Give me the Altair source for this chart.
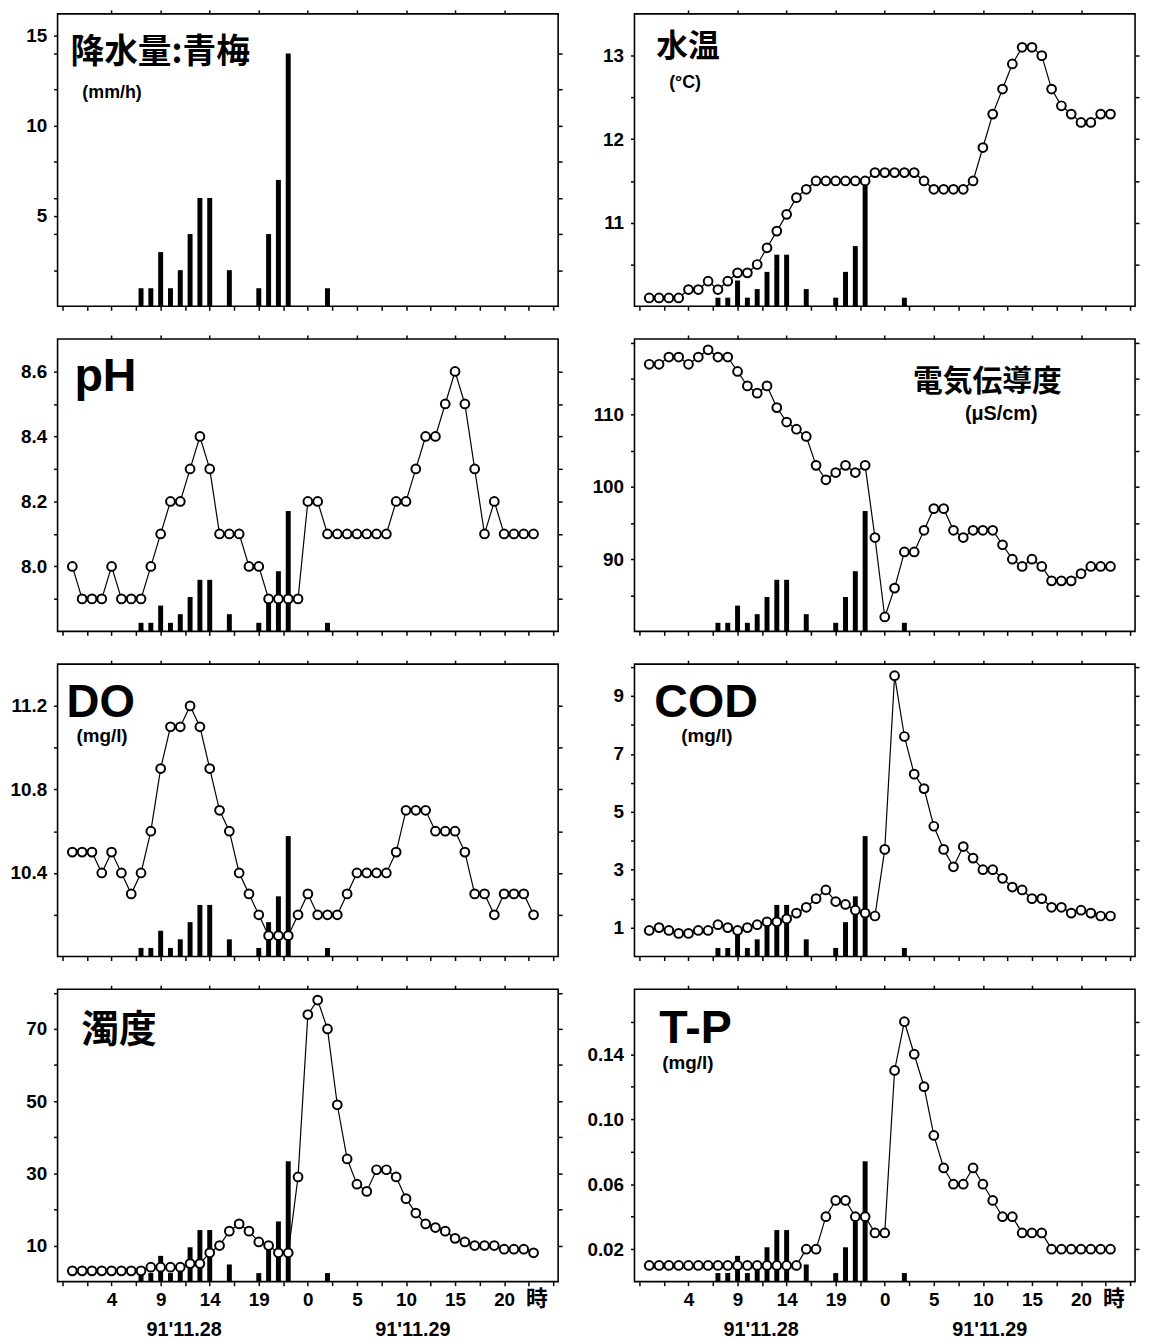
import altair as alt
import pandas as pd

# ---------------- data ----------------
HOURS = list(range(48))  # hours from 91'11.28 0:00

RAIN_HOURS = [7, 8, 9, 10, 11, 12, 13, 14, 16, 19, 20, 21, 22, 26]
RAIN_MM = [1, 1, 3, 1, 2, 4, 6, 6, 2, 1, 4, 7, 14, 1]

WATER_TEMP = [10.1, 10.1, 10.1, 10.1, 10.2, 10.2, 10.3, 10.2, 10.3, 10.4,
              10.4, 10.5, 10.7, 10.9, 11.1, 11.3, 11.4, 11.5, 11.5, 11.5,
              11.5, 11.5, 11.5, 11.6, 11.6, 11.6, 11.6, 11.6, 11.5, 11.4,
              11.4, 11.4, 11.4, 11.5, 11.9, 12.3, 12.6, 12.9, 13.1, 13.1,
              13.0, 12.6, 12.4, 12.3, 12.2, 12.2, 12.3, 12.3]

PH = [8.0, 7.9, 7.9, 7.9, 8.0, 7.9, 7.9, 7.9, 8.0, 8.1,
      8.2, 8.2, 8.3, 8.4, 8.3, 8.1, 8.1, 8.1, 8.0, 8.0,
      7.9, 7.9, 7.9, 7.9, 8.2, 8.2, 8.1, 8.1, 8.1, 8.1,
      8.1, 8.1, 8.1, 8.2, 8.2, 8.3, 8.4, 8.4, 8.5, 8.6,
      8.5, 8.3, 8.1, 8.2, 8.1, 8.1, 8.1, 8.1]

COND = [117, 117, 118, 118, 117, 118, 119, 118, 118, 116,
        114, 113, 114, 111, 109, 108, 107, 103, 101, 102,
        103, 102, 103, 93, 82, 86, 91, 91, 94, 97,
        97, 94, 93, 94, 94, 94, 92, 90, 89, 90,
        89, 87, 87, 87, 88, 89, 89, 89]

DO = [10.5, 10.5, 10.5, 10.4, 10.5, 10.4, 10.3, 10.4, 10.6, 10.9,
      11.1, 11.1, 11.2, 11.1, 10.9, 10.7, 10.6, 10.4, 10.3, 10.2,
      10.1, 10.1, 10.1, 10.2, 10.3, 10.2, 10.2, 10.2, 10.3, 10.4,
      10.4, 10.4, 10.4, 10.5, 10.7, 10.7, 10.7, 10.6, 10.6, 10.6,
      10.5, 10.3, 10.3, 10.2, 10.3, 10.3, 10.3, 10.2]

COD = [0.9, 1.0, 0.9, 0.8, 0.8, 0.9, 0.9, 1.1, 1.0, 0.9,
       1.0, 1.1, 1.2, 1.2, 1.3, 1.5, 1.7, 2.0, 2.3, 1.9,
       1.8, 1.6, 1.5, 1.4, 3.7, 9.7, 7.6, 6.3, 5.8, 4.5,
       3.7, 3.1, 3.8, 3.4, 3.0, 3.0, 2.7, 2.4, 2.3, 2.0,
       2.0, 1.7, 1.7, 1.5, 1.6, 1.5, 1.4, 1.4]

TURB = [3, 3, 3, 3, 3, 3, 3, 3, 4, 4,
        4, 4, 5, 5, 8, 10, 14, 16, 14, 11,
        10, 8, 8, 29, 74, 78, 70, 49, 34, 27,
        25, 31, 31, 29, 23, 19, 16, 15, 14, 12,
        11, 10, 10, 10, 9, 9, 9, 8]

TP = [0.01, 0.01, 0.01, 0.01, 0.01, 0.01, 0.01, 0.01, 0.01, 0.01,
      0.01, 0.01, 0.01, 0.01, 0.01, 0.01, 0.02, 0.02, 0.04, 0.05,
      0.05, 0.04, 0.04, 0.03, 0.03, 0.13, 0.16, 0.14, 0.12, 0.09,
      0.07, 0.06, 0.06, 0.07, 0.06, 0.05, 0.04, 0.04, 0.03, 0.03,
      0.03, 0.02, 0.02, 0.02, 0.02, 0.02, 0.02, 0.02]

X_TICKS = [-1, 1.5, 4, 6.5, 9, 11.5, 14, 16.5, 19, 21.5, 24, 26.5, 29,
           31.5, 34, 36.5, 39, 41.5, 44, 46.5, 49]
X_LABELED = [4, 9, 14, 19, 24, 29, 34, 39, 44]
DATE_HOURS = [11.4, 34.7]
DATE_TEXT = ["91'11.28", "91'11.29"]
UNIT_HOUR = [47.35]
UNIT_TEXT = ["時"]

# ---------------- styling ----------------
FONT = "Liberation Sans"
JP = "Noto Sans CJK JP"
W, H = 505, 295
XDOM = [-1, 49]
rain_df = pd.DataFrame({"h": RAIN_HOURS, "r": RAIN_MM})

X_EXPR = ("indexof(" + str(X_LABELED) + ", datum.value) >= 0 ? "
          "format(datum.value % 24, 'd') : ''")


def xscale():
    return alt.Scale(domain=XDOM, nice=False, zero=False)


def bottom_axis(labels):
    return alt.Axis(values=X_TICKS, labels=labels, labelExpr=X_EXPR, title=None,
                    labelFlush=False, labelOverlap=False, labelPadding=5)


def top_axis():
    return alt.Axis(orient="top", values=X_LABELED, labels=False, title=None,
                    minExtent=0, maxExtent=4)


def left_axis(ticks, labeled, fmt):
    expr = ("indexof(" + str(labeled) + ", datum.value) >= 0 ? "
            "format(datum.value, '" + fmt + "') : ''")
    vals = sorted(set(ticks) | set(labeled))
    return alt.Axis(orient="left", values=vals, labelExpr=expr, title=None,
                    labelFlush=False, labelOverlap=False, labelPadding=7)


def right_axis(ticks):
    return alt.Axis(orient="right", values=ticks, labels=False, title=None,
                    minExtent=0, maxExtent=4)


def txt(t, x, y, size, font=FONT, weight="bold", align="left", baseline="middle"):
    return alt.Chart(pd.DataFrame({"t": [t]})).mark_text(
        text=t, font=font, fontSize=size, fontWeight=weight, align=align,
        baseline=baseline, color="black").encode(x=alt.value(x), y=alt.value(y))


def panel(series, ydom, labeled, minor, fmt, texts, bottom):
    ys = alt.Scale(domain=ydom, nice=False, zero=False)
    layers = []
    if series is None:
        layers.append(alt.Chart(rain_df).mark_bar(color="black", size=5).encode(
            x=alt.X("h:Q", scale=xscale(), axis=bottom_axis(bottom)),
            y=alt.Y("r:Q", scale=ys, axis=left_axis(minor, labeled, fmt))))
        layers.append(alt.Chart(rain_df).mark_point(opacity=0).encode(
            x=alt.X("h:Q", scale=xscale(), axis=top_axis()),
            y=alt.Y("r:Q", scale=ys, axis=right_axis(minor))))
    else:
        df = pd.DataFrame({"h": HOURS, "v": series})
        layers.append(alt.Chart(rain_df).mark_bar(color="black", size=5).encode(
            x=alt.X("h:Q", scale=xscale(), axis=bottom_axis(bottom)),
            y=alt.Y("r:Q", scale=alt.Scale(domain=[0, 34], nice=False), axis=None)))
        layers.append(alt.Chart(df).mark_line(color="black", strokeWidth=1.2).encode(
            x=alt.X("h:Q", scale=xscale(), axis=top_axis()),
            y=alt.Y("v:Q", scale=ys, axis=left_axis(minor, labeled, fmt))))
        layers.append(alt.Chart(df).mark_point(
            shape="circle", filled=True, fill="white", stroke="black",
            strokeWidth=2, size=78, opacity=1).encode(
            x=alt.X("h:Q", scale=xscale(), axis=None),
            y=alt.Y("v:Q", scale=ys, axis=right_axis(minor))))
    for t in texts:
        layers.append(txt(*t))
    if bottom:
        ddf = pd.DataFrame({"h": DATE_HOURS, "t": DATE_TEXT})
        layers.append(alt.Chart(ddf).mark_text(
            font=FONT, fontSize=20, fontWeight="bold", color="black",
            baseline="middle").encode(
            x=alt.X("h:Q", scale=xscale(), axis=None), y=alt.value(H + 49),
            text="t:N"))
        udf = pd.DataFrame({"h": UNIT_HOUR, "t": UNIT_TEXT})
        layers.append(alt.Chart(udf).mark_text(
            font=JP, fontSize=22, fontWeight="bold", color="black",
            baseline="middle").encode(
            x=alt.X("h:Q", scale=xscale(), axis=None), y=alt.value(H + 18),
            text="t:N"))
    return alt.layer(*layers).resolve_scale(y="independent").resolve_axis(
        x="independent", y="independent").properties(width=W, height=H)


p_rain = panel(None, [0, 16.2], [5, 10, 15], [2, 4, 6, 8, 10, 12, 14], "d",
               [("降水量:青梅", 13, 40, 34, JP, "bold"),
                ("(mm/h)", 25, 80, 18)], False)
p_temp = panel(WATER_TEMP, [10.0, 13.5], [11, 12, 13],
               [10.5, 11, 11.5, 12, 12.5, 13], "d",
               [("水温", 22, 34, 32, JP, "bold"),
                ("(°C)", 35, 70, 18)], False)
p_ph = panel(PH, [7.8, 8.7], [8.0, 8.2, 8.4, 8.6],
             [7.9, 8.0, 8.1, 8.2, 8.3, 8.4, 8.5, 8.6], ".1f",
             [("pH", 17, 52, 47, FONT, "bold", "left", "alphabetic")], False)
p_cond = panel(COND, [80, 120.5], [90, 100, 110],
               [85, 90, 95, 100, 105, 110, 115, 120], "d",
               [("電気伝導度", 356, 43, 30, JP, "bold", "center"),
                ("(μS/cm)", 370, 76, 20, FONT, "bold", "center")], False)
p_do = panel(DO, [10.0, 11.4], [10.4, 10.8, 11.2],
             [10.2, 10.4, 10.6, 10.8, 11.0, 11.2], ".1f",
             [("DO", 9, 53, 46, FONT, "bold", "left", "alphabetic"),
              ("(mg/l)", 19, 73, 19)], False)
p_cod = panel(COD, [0, 10.1], [1, 3, 5, 7, 9],
              [1, 2, 3, 4, 5, 6, 7, 8, 9, 10], "d",
              [("COD", 20, 53, 47, FONT, "bold", "left", "alphabetic"),
               ("(mg/l)", 73, 73, 19, FONT, "bold", "center")], False)
p_turb = panel(TURB, [0, 81], [10, 30, 50, 70],
               [10, 20, 30, 40, 50, 60, 70, 80], "d",
               [("濁度", 24, 42, 38, JP, "bold")], True)
p_tp = panel(TP, [0, 0.18], [0.02, 0.06, 0.10, 0.14],
             [0.02, 0.04, 0.06, 0.08, 0.10, 0.12, 0.14, 0.16], ".2f",
             [("T-P", 25, 54, 47, FONT, "bold", "left", "alphabetic"),
              ("(mg/l)", 28, 74, 19)], True)

panels = [p_rain, p_temp, p_ph, p_cond, p_do, p_cod, p_turb, p_tp]

chart = alt.concat(*panels, columns=2, spacing={"row": 33, "column": 77},
                   bounds="flush").properties(
    padding={"left": 1, "top": -6, "right": 0, "bottom": 0}
).configure(background="white").configure_view(
    stroke="black", strokeWidth=1.6
).configure_axis(
    labelFont=FONT, labelFontSize=19, labelFontWeight="bold", labelColor="black",
    tickColor="black", tickWidth=1.5, tickSize=4, domain=False, grid=False
)

chart.save("out.html", embed_options={"renderer": "svg", "actions": False})
